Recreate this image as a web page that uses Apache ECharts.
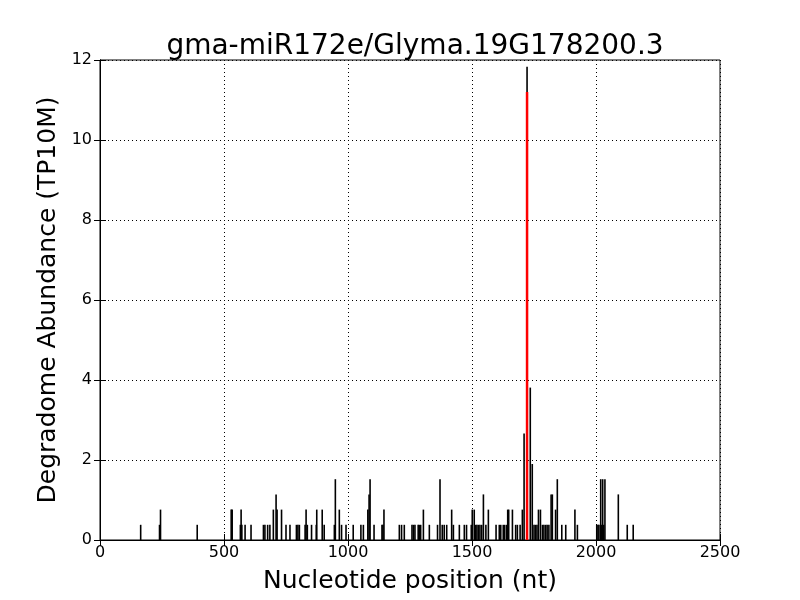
<!DOCTYPE html>
<html>
<head>
<meta charset="utf-8">
<script src="https://cdn.jsdelivr.net/npm/echarts@6/dist/echarts.min.js"></script>
<style>html,body{margin:0;padding:0;background:#fff;}#c{width:800px;height:600px;}</style>
</head>
<body>
<div id="c"></div>
<script>
const titleText = "gma-miR172e/Glyma.19G178200.3";
const positions = [164,240,244,392,529,533,566,569,572,585,609,659,665,676,685,699,710,714,732,750,766,792,798,804,
  827,831,836,853,872,874,896,904,945,949,965,974,992,1021,1052,1062,1080,1085,1089,1105,1137,1141,1145,
  1207,1216,1227,1258,1264,1270,1283,1288,1293,1304,1328,1361,1371,1380,1388,1398,1418,1425,1449,1469,1478,
  1497,1501,1509,1515,1520,1526,1532,1539,1546,1556,1566,1597,1610,1616,1626,1632,1640,1644,1648,1663,1676,1683,1694,1703,
  1710,1722,1735,1743,1750,1756,1762,1768,1776,1784,1790,1797,1803,1810,1819,1824,1837,1844,1862,1878,1915,1925,
  2003,2008,2012,2019,2023,2027,2031,2036,2090,2126,2150];
const abundance = [0.38,0.38,0.76,0.38,0.76,0.76,0.38,0.76,0.38,0.38,0.38,0.38,0.38,0.38,0.38,0.76,1.14,0.76,0.76,0.38,0.38,0.38,0.38,0.38,
  0.38,0.76,0.38,0.38,0.38,0.76,0.76,0.38,0.38,1.52,0.76,0.38,0.38,0.38,0.38,0.38,0.76,1.14,1.52,0.38,0.38,0.38,0.76,
  0.38,0.38,0.38,0.38,0.38,0.38,0.38,0.38,0.38,0.76,0.38,0.38,1.52,0.38,0.38,0.38,0.76,0.38,0.38,0.38,0.38,
  0.38,0.76,0.76,0.38,0.38,0.38,0.38,0.38,1.14,0.38,0.76,0.38,0.38,0.38,0.38,0.38,0.38,0.76,0.76,0.76,0.38,0.38,0.38,0.76,
  2.66,11.83,3.81,1.9,0.38,0.38,0.38,0.76,0.76,0.38,0.38,0.38,0.38,0.38,1.14,1.14,0.76,1.52,0.38,0.38,0.76,0.38,
  0.38,0.38,0.38,1.52,0.38,1.52,0.38,1.52,1.14,0.38,0.38];
const sitePosition = 1722;
const siteHeight = 11.2;
const xTicks = {min:0, max:2500, interval:500};
const yTicks = {min:0, max:12, interval:2};

const font = "DejaVu Sans";
const barData = positions.map((p,i)=>[p, abundance[i]]);
const chart = echarts.init(document.getElementById('c'), null, {renderer:'canvas'});
const tick = {show:true, inside:true, length:6, lineStyle:{color:'#000', width:1}};
chart.setOption({
  animation:false,
  backgroundColor:'#fff',
  title:{text:titleText, left:410, top:28, textAlign:'center',
    textStyle:{fontFamily:font, fontSize:28, fontWeight:'normal', color:'#000'}},
  grid:{left:100, right:80, top:60, bottom:60, show:true, borderColor:'#000', borderWidth:1, backgroundColor:'transparent'},
  xAxis:[{type:'value', min:xTicks.min, max:xTicks.max, interval:xTicks.interval,
    name:'Nucleotide position (nt)', nameLocation:'middle', nameGap:29,
    nameTextStyle:{fontFamily:font, fontSize:25, color:'#000'},
    axisLine:{show:true, lineStyle:{color:'#000'}}, axisTick:tick,
    axisLabel:{fontFamily:font, fontSize:16, color:'#000', margin:5, formatter:v=>String(v)},
    splitLine:{show:true, lineStyle:{color:'#000', type:[1,3], width:1}}},
   {type:'value', position:'top', min:xTicks.min, max:xTicks.max, interval:xTicks.interval,
    axisLine:{show:true, lineStyle:{color:'#000'}}, axisTick:tick, axisLabel:{show:false}, splitLine:{show:false}}],
  yAxis:[{type:'value', min:yTicks.min, max:yTicks.max, interval:yTicks.interval,
    name:'Degradome Abundance (TP10M)', nameLocation:'middle', nameGap:32,
    nameTextStyle:{fontFamily:font, fontSize:25, color:'#000'},
    axisLine:{show:true, lineStyle:{color:'#000'}}, axisTick:tick,
    axisLabel:{fontFamily:font, fontSize:16, color:'#000', margin:8, formatter:v=>String(v)},
    splitLine:{show:true, lineStyle:{color:'#000', type:[1,3], width:1}}},
   {type:'value', position:'right', min:yTicks.min, max:yTicks.max, interval:yTicks.interval,
    axisLine:{show:true, lineStyle:{color:'#000'}}, axisTick:tick, axisLabel:{show:false}, splitLine:{show:false}}],
  series:[
    {type:'bar', xAxisIndex:0, yAxisIndex:0, data:barData, barWidth:1.6,
     itemStyle:{color:'#000'}, silent:true},
    {type:'line', xAxisIndex:0, yAxisIndex:0, data:[[sitePosition,0],[sitePosition,siteHeight]],
     showSymbol:false, symbol:'none', lineStyle:{color:'#ff0000', width:2.5}, silent:true, z:5}
  ]
});
</script>
</body>
</html>
